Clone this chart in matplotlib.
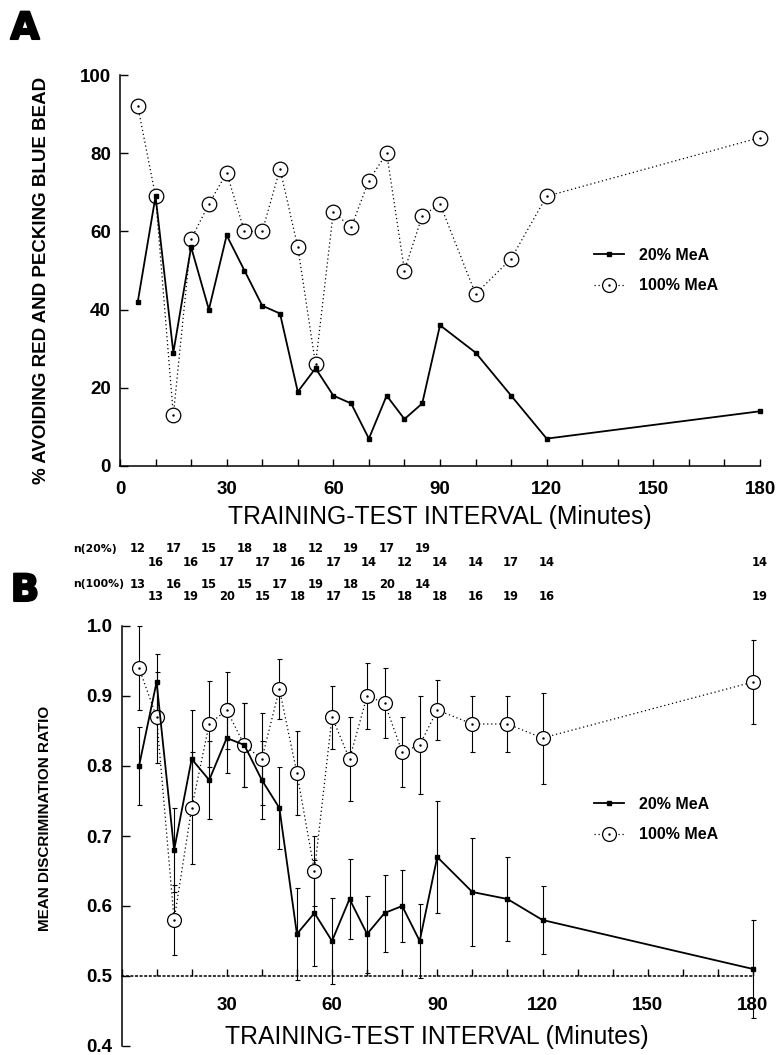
import matplotlib
matplotlib.use('Agg')
import matplotlib.pyplot as plt
from matplotlib.lines import Line2D
from matplotlib.ticker import FixedLocator, MultipleLocator
import matplotlib.transforms as mtrans
import matplotlib.patheffects as pe

# ---------------- data ----------------
minutes = [5, 10, 15, 20, 25, 30, 35, 40, 45, 50, 55, 60, 65, 70, 75, 80, 85, 90, 100, 110, 120, 180]

pct_20 = [42, 69, 29, 56, 40, 59, 50, 41, 39, 19, 25, 18, 16, 7, 18, 12, 16, 36, 29, 18, 7, 14]
pct_100 = [92, 69, 13, 58, 67, 75, 60, 60, 76, 56, 26, 65, 61, 73, 80, 50, 64, 67, 44, 53, 69, 84]

ratio_20 = [0.80, 0.92, 0.68, 0.81, 0.78, 0.84, 0.83, 0.78, 0.74, 0.56, 0.59, 0.55, 0.61, 0.56,
            0.59, 0.60, 0.55, 0.67, 0.62, 0.61, 0.58, 0.51]
ratio_20_err = [0.056, 0.04, 0.06, 0.07, 0.056, 0.05, 0.06, 0.056, 0.058, 0.066, 0.076, 0.062,
                0.057, 0.055, 0.055, 0.051, 0.053, 0.08, 0.077, 0.06, 0.049, 0.07]
ratio_100 = [0.94, 0.87, 0.58, 0.74, 0.86, 0.88, 0.83, 0.81, 0.91, 0.79, 0.65, 0.87, 0.81, 0.90,
             0.89, 0.82, 0.83, 0.88, 0.86, 0.86, 0.84, 0.92]
ratio_100_err = [0.06, 0.065, 0.05, 0.08, 0.062, 0.055, 0.06, 0.066, 0.043, 0.06, 0.05, 0.045,
                 0.06, 0.047, 0.05, 0.05, 0.07, 0.043, 0.04, 0.04, 0.065, 0.06]

n_20 = [12, 16, 17, 16, 15, 17, 18, 17, 18, 16, 12, 17, 19, 14, 17, 12, 19, 14, 14, 17, 14, 14]
n_100 = [13, 13, 16, 19, 15, 20, 15, 15, 17, 18, 19, 17, 18, 15, 20, 18, 14, 18, 16, 19, 16, 19]

a_xticks = [0, 30, 60, 90, 120, 150, 180]
b_xticks = [30, 60, 90, 120, 150, 180]
a_yticks = [0, 20, 40, 60, 80, 100]
b_yticks = [0.4, 0.5, 0.6, 0.7, 0.8, 0.9, 1.0]
b_yticklabels = ['0.4', '0.5', '0.6', '0.7', '0.8', '0.9', '1.0']
series_labels = ['20% MeA', '100% MeA']
n_labels = ['n(20%)', 'n(100%)']
xlabel = 'TRAINING-TEST INTERVAL (Minutes)'
a_ylabel = '% AVOIDING RED AND PECKING BLUE BEAD'
b_ylabel = 'MEAN DISCRIMINATION RATIO'

# ---------------- layout ----------------
W, H = 776, 1055
FONT = 'Liberation Sans'
plt.rcParams['font.family'] = [FONT, 'DejaVu Sans']

fig = plt.figure(figsize=(W / 100, H / 100), dpi=100)


def fx(px):
    return px / W


def fy(py):
    return 1 - py / H


axA = fig.add_axes([fx(120), fy(466), fx(760) - fx(120), fy(75) - fy(466)])
axB = fig.add_axes([fx(121.5), fy(1046), fx(753) - fx(121.5), fy(626) - fy(1046)])

DOT = (0, (1.0, 2.2))


def style_axis(ax, xticks, xpad):
    for s in ['top', 'right']:
        ax.spines[s].set_visible(False)
    for s in ['left', 'bottom']:
        ax.spines[s].set_linewidth(1.1)
    ax.set_xlim(0, 180)
    ax.xaxis.set_major_locator(FixedLocator(xticks))
    ax.xaxis.set_minor_locator(MultipleLocator(10))
    ax.tick_params(axis='x', which='both', direction='in', length=5, width=1.0, pad=xpad)
    ax.tick_params(axis='y', which='both', direction='in', length=6, width=1.0, pad=6.5)
    for lab in ax.get_xticklabels() + ax.get_yticklabels():
        lab.set_fontweight('bold')
        lab.set_fontsize(13.5)


def plot_series(ax, y20, y100, ms):
    ax.plot(minutes, y20, color='black', lw=1.3, marker='s', ms=2.8, zorder=4, clip_on=False)
    ax.plot(minutes, y100, color='black', lw=0.9, linestyle=DOT, zorder=2, clip_on=False)
    ax.plot(minutes, y100, linestyle='none', marker='o', ms=ms, mfc='white', mec='black',
            mew=0.9, zorder=3, clip_on=False)
    ax.plot(minutes, y100, linestyle='none', marker='.', ms=1.5, color='black', zorder=3.5,
            clip_on=False)


def add_legend(ax, top_px):
    h20 = Line2D([], [], color='black', lw=1.3, marker='s', ms=2.8)
    h100a = Line2D([], [], color='black', lw=0.9, linestyle=DOT, marker='o', ms=10,
                   mfc='white', mec='black', mew=0.9)
    h100b = Line2D([], [], linestyle='none', marker='.', ms=1.5, color='black')
    leg = ax.legend([h20, (h100a, h100b)], series_labels, loc='upper left',
                    bbox_to_anchor=(fx(594), fy(top_px)), bbox_transform=fig.transFigure,
                    frameon=False, borderpad=0, borderaxespad=0, handlelength=1.9,
                    handletextpad=0.9, labelspacing=0.95, numpoints=1,
                    prop={'family': FONT, 'weight': 'bold', 'size': 11.5})
    return leg


# ---------------- panel A ----------------
plot_series(axA, pct_20, pct_100, 10.5)
axA.set_ylim(0, 100)
axA.yaxis.set_major_locator(FixedLocator(a_yticks))
style_axis(axA, a_xticks, xpad=11)
add_legend(axA, 248)

# ---------------- panel B ----------------
axB.errorbar(minutes, ratio_20, yerr=ratio_20_err, fmt='none', ecolor='black', elinewidth=0.8,
             capsize=1.8, capthick=0.8, zorder=1, clip_on=False)
axB.errorbar(minutes, ratio_100, yerr=ratio_100_err, fmt='none', ecolor='black', elinewidth=0.8,
             capsize=1.8, capthick=0.8, zorder=1, clip_on=False)
plot_series(axB, ratio_20, ratio_100, 10)
axB.set_ylim(0.4, 1.0)
axB.set_yticks(b_yticks)
axB.set_yticklabels(b_yticklabels)
axB.spines['bottom'].set_position(('data', 0.5))
axB.spines['bottom'].set_linestyle((0, (1.0, 2.0)))
axB.spines['bottom'].set_linewidth(1.0)
style_axis(axB, b_xticks, xpad=15)
add_legend(axB, 797)

# ---------------- texts ----------------
fig.text(fx(440), fy(517), xlabel, ha='center', va='center', fontsize=17.8, family=FONT)
fig.text(fx(437), fy(1037), xlabel, ha='center', va='center', fontsize=17.8, family=FONT)
fig.text(fx(42), fy(280), a_ylabel, rotation=90, ha='center', va='center', fontsize=13.5,
         fontweight='bold', family=FONT)
fig.text(fx(45), fy(818), b_ylabel, rotation=90, ha='center', va='center', fontsize=11,
         fontweight='bold', family=FONT)
for letter, ypx in [('A', 29), ('B', 591)]:
    fig.text(fx(25), fy(ypx), letter, ha='center', va='center', fontsize=27, fontweight='heavy',
             family='DejaVu Sans',
             path_effects=[pe.withStroke(linewidth=1.5, foreground='black')])

# sample sizes row, aligned to panel A's minute scale
trans = mtrans.blended_transform_factory(axA.transData, fig.transFigure)
rows = [(n_labels[0], n_20, 549, 562), (n_labels[1], n_100, 584, 597)]
for lab, vals, y_top, y_bot in rows:
    fig.text(fx(73), fy(y_top), lab, ha='left', va='center', fontsize=7.8, fontweight='bold',
             family='DejaVu Sans')
    for m, v in zip(minutes, vals):
        yy = y_top if (m < 90 and m % 10 == 5) else y_bot
        fig.text(m, fy(yy), str(v), transform=trans, ha='center', va='center', fontsize=8.3,
                 fontweight='bold', family='DejaVu Sans')

fig.savefig('out.png', dpi=100)
